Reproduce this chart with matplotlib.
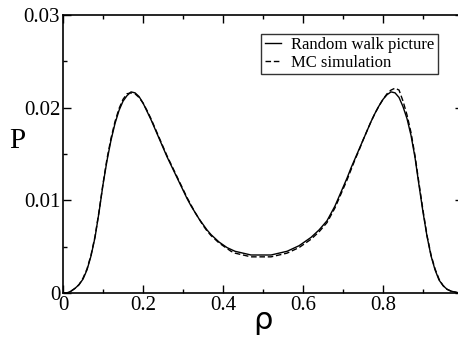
import numpy as np
import matplotlib
matplotlib.use("Agg")
import matplotlib.pyplot as plt
from matplotlib.ticker import MultipleLocator

# density values, one every 0.01 in rho
rho = np.round(np.arange(0, 1.001, 0.01), 2)

p_walk = [0.0000, 0.0000, 0.0002, 0.0005, 0.0009, 0.0015, 0.0025, 0.0040, 0.0060, 0.0087,
          0.0117, 0.0143, 0.0165, 0.0183, 0.0197, 0.0207, 0.0213, 0.0217, 0.0216, 0.0212,
          0.0205, 0.0196, 0.0187, 0.0177, 0.0167, 0.0157, 0.0147, 0.0138, 0.0129, 0.0120,
          0.0111, 0.0102, 0.0094, 0.0087, 0.0080, 0.0074, 0.0068, 0.0063, 0.0059, 0.0055,
          0.0052, 0.0049, 0.0047, 0.0045, 0.0044, 0.0043, 0.0042, 0.0041, 0.0041, 0.0041,
          0.0041, 0.0041, 0.0041, 0.0042, 0.0043, 0.0044, 0.0045, 0.0047, 0.0049, 0.0051,
          0.0054, 0.0057, 0.0060, 0.0064, 0.0068, 0.0073, 0.0078, 0.0086, 0.0094, 0.0104,
          0.0114, 0.0124, 0.0135, 0.0145, 0.0155, 0.0165, 0.0175, 0.0185, 0.0194, 0.0202,
          0.0209, 0.0214, 0.0217, 0.0216, 0.0211, 0.0201, 0.0188, 0.0170, 0.0146, 0.0116,
          0.0087, 0.0061, 0.0040, 0.0025, 0.0014, 0.0008, 0.0004, 0.0002, 0.0001, 0.0000,
          0.0000]

p_mc = [0.0000, 0.0000, 0.0002, 0.0005, 0.0009, 0.0016, 0.0026, 0.0041, 0.0061, 0.0088,
        0.0118, 0.0145, 0.0167, 0.0185, 0.0199, 0.0209, 0.0215, 0.0216, 0.0215, 0.0211,
        0.0205, 0.0197, 0.0188, 0.0178, 0.0168, 0.0158, 0.0148, 0.0139, 0.0130, 0.0121,
        0.0112, 0.0103, 0.0095, 0.0087, 0.0080, 0.0073, 0.0067, 0.0062, 0.0058, 0.0054,
        0.0051, 0.0048, 0.0045, 0.0043, 0.0042, 0.0041, 0.0040, 0.0039, 0.0039, 0.0039,
        0.0039, 0.0039, 0.0039, 0.0040, 0.0041, 0.0042, 0.0043, 0.0045, 0.0047, 0.0049,
        0.0052, 0.0055, 0.0058, 0.0062, 0.0066, 0.0071, 0.0076, 0.0084, 0.0092, 0.0102,
        0.0112, 0.0122, 0.0133, 0.0144, 0.0154, 0.0165, 0.0175, 0.0185, 0.0194, 0.0202,
        0.0209, 0.0215, 0.0219, 0.0221, 0.0219, 0.0207, 0.0192, 0.0173, 0.0148, 0.0118,
        0.0089, 0.0062, 0.0041, 0.0026, 0.0015, 0.0008, 0.0004, 0.0002, 0.0001, 0.0000,
        0.0000]

x_ticks = [0, 0.2, 0.4, 0.6, 0.8]
x_labels = ["0", "0.2", "0.4", "0.6", "0.8"]
y_ticks = [0, 0.01, 0.02, 0.03]
y_labels = ["0", "0.01", "0.02", "0.03"]

serif = "Liberation Serif"

fig = plt.figure(figsize=(4.58, 3.41), dpi=100)
ax = fig.add_axes([0.1376, 0.1408, 0.8734, 0.8152])

ax.plot(rho, p_walk, color="black", lw=1.0, label="Random walk picture")
ax.plot(rho, p_mc, color="black", lw=1.0, dashes=(4, 2), label="MC simulation")

ax.set_xlim(0, 1)
ax.set_ylim(0, 0.03)
ax.set_xticks(x_ticks)
ax.set_xticklabels(x_labels, family=serif, fontsize=15)
ax.set_yticks(y_ticks)
ax.set_yticklabels(y_labels, family=serif, fontsize=15)
ax.xaxis.set_minor_locator(MultipleLocator(0.1))
ax.yaxis.set_minor_locator(MultipleLocator(0.005))
ax.tick_params(which="both", direction="in", top=True, right=True, width=1.0)
ax.tick_params(which="major", length=6, pad=2)
ax.tick_params(which="minor", length=3)
for s in ax.spines.values():
    s.set_linewidth(1.2)

ax.set_ylabel("P", family=serif, fontsize=21, rotation=0, labelpad=14)
ax.yaxis.set_label_coords(-0.115, 0.5)
ax.set_xlabel("ρ", family="DejaVu Sans", fontsize=22, labelpad=-6)

leg = ax.legend(loc="upper right", bbox_to_anchor=(0.9375, 0.932),
                prop={"family": serif, "size": 12}, frameon=True, fancybox=False,
                handlelength=1.0, handletextpad=0.6, borderpad=0.2,
                labelspacing=0.1, borderaxespad=0)
leg.get_frame().set_edgecolor("black")
leg.get_frame().set_linewidth(1.0)

fig.savefig("out.png", dpi=100)
